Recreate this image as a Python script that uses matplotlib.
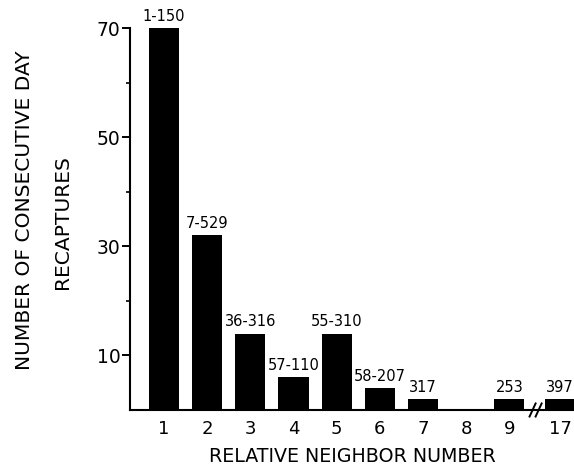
import matplotlib
matplotlib.use("Agg")
import matplotlib.pyplot as plt
import numpy as np

categories = ['1', '2', '3', '4', '5', '6', '7', '8', '9', '17']
values = [70, 32, 14, 6, 14, 4, 2, 0, 2, 2]
bar_labels = ['1-150', '7-529', '36-316', '57-110', '55-310', '58-207', '317', '', '253', '397']
ytick_major = [10, 30, 50, 70]
ytick_minor = [20, 40, 60]

plt.rcParams['font.family'] = ['DejaVu Sans']

fig = plt.figure(figsize=(5.74, 4.68), dpi=100)
ax = fig.add_axes([130/574, 58/468, 1 - 130/574, (410 - 28)/468])

# positions: evenly spaced, with an extra gap before the broken-axis category
positions = np.arange(1, len(categories) + 1, dtype=float)
positions[-1] += 0.18

ax.bar(positions, values, width=0.70, color='black', zorder=2)
for x, v, lab in zip(positions, values, bar_labels):
    if lab:
        ax.annotate(lab, (x, v), xytext=(0, 3), textcoords='offset points',
                    ha='center', va='bottom', fontsize=10.5)

ax.set_xlim(0.21, 10.5)
ax.set_ylim(0, 70)
ax.set_xticks(positions)
ax.set_xticklabels(categories, fontsize=13)
ax.set_yticks(ytick_major)
ax.set_yticks(ytick_minor, minor=True)
ax.set_yticklabels([str(t) for t in ytick_major], fontsize=13.5)
ax.tick_params(axis='x', length=0, pad=7)
ax.tick_params(axis='y', which='major', length=6, width=1.4, pad=1)
ax.tick_params(axis='y', which='minor', length=3, width=1.2)

for s in ['top', 'right']:
    ax.spines[s].set_visible(False)
for s in ['left', 'bottom']:
    ax.spines[s].set_linewidth(1.5)

ax.set_xlabel('RELATIVE NEIGHBOR NUMBER', fontsize=13.7, labelpad=7)

# axis break marks
bx = 9.61
for dx in (-0.07, 0.07):
    ax.plot([bx + dx - 0.07, bx + dx + 0.07], [-1.2, 1.2], color='black',
            lw=1.4, clip_on=False, zorder=3)
ax.plot([bx - 0.06, bx + 0.06], [0, 0], color='white', lw=2.5, clip_on=False, zorder=2.5)

fig.text(25/574, 1 - 210/468, 'NUMBER OF CONSECUTIVE DAY', rotation=90,
         ha='center', va='center', fontsize=14.6)
fig.text(62/574, 1 - 222/468, 'RECAPTURES', rotation=90,
         ha='center', va='center', fontsize=14.6)

fig.savefig('out.png', dpi=100)
